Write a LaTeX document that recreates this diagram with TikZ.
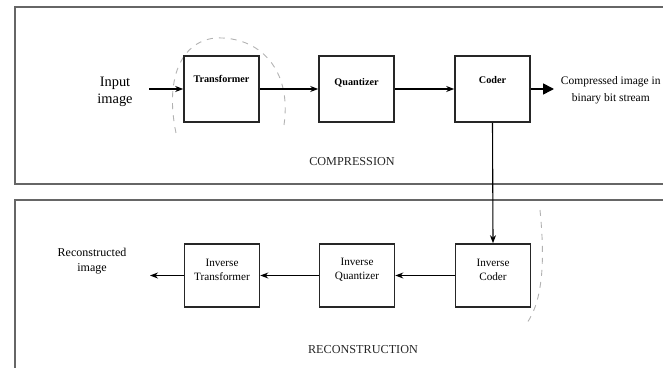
\documentclass[tikz,border=0pt]{standalone}
\usepackage{fontspec}
\setmainfont{Liberation Serif}
\usetikzlibrary{arrows.meta}
\begin{document}
\begin{tikzpicture}[x=0.5pt,y=-0.5pt,
  box/.style={draw=black!85, line width=0.8pt, minimum width=37.5pt, minimum height=33pt, inner sep=0pt},
  bbox/.style={box, minimum height=31.5pt},
  blab/.style={font=\fontsize{5.1}{6}\selectfont\bfseries, align=center, inner sep=0pt},
  ilab/.style={font=\fontsize{5.6}{7}\selectfont, align=center, inner sep=0pt},
  side/.style={font=\fontsize{7.2}{8.5}\selectfont, align=center, inner sep=0pt},
  captext/.style={font=\fontsize{6.1}{7}\selectfont, inner sep=0pt, text=black!85},
  arr/.style={line width=0.55pt, -{Stealth[length=4pt,width=3pt]}},
  bigarr/.style={line width=0.8pt, -{Triangle[length=5.5pt,width=5.5pt]}},
  panel/.style={draw=black!60, line width=0.55pt},
  pencil/.style={draw=black!30, dashed, line width=0.45pt}]
\useasboundingbox (0,0) rectangle (663,368);
\clip (0,0) rectangle (663,368);
% panels
\draw[panel] (15,7) rectangle (700,184);
\draw[panel] (15,200) rectangle (700,400);
% pencil marks
\draw[pencil] (176,133) .. controls (165,80) and (180,42) .. (215,38) .. controls (260,36) and (292,70) .. (284,125);
\draw[pencil] (540,210) .. controls (545,260) and (543,300) .. (527,323);
% top row
\node[box] (T) at (221.5,89) {};
\node[box] (Q) at (356.5,89) {};
\node[box] (C) at (492.5,89) {};
\node[blab] (Tl) at (221.5,79) {Transformer};
\node[blab] (Ql) at (356.5,83) {Quantizer};
\node[blab] (Cl) at (492.5,80) {Coder};
\node[side] (in) at (115,91.5) {Input\\image};
\coordinate (inA) at (149,89);
\draw[arr] (inA) -- (T.west);
\draw[arr] (T.east) -- (Q.west);
\draw[arr] (Q.east) -- (C.west);
\coordinate (outA) at (554,89);
\draw[bigarr] (C.east) -- (outA);
\node[font=\fontsize{5.75}{8.5}\selectfont, align=center, inner sep=0pt, anchor=east] (out) at (661,90) {Compressed image in\\binary bit stream};
\node[captext] (comp) at (352,162) {COMPRESSION};
% bottom row
\node[bbox] (IT) at (222,275.5) {};
\node[bbox] (IQ) at (357,275.5) {};
\node[bbox] (IC) at (493,275.5) {};
\node[ilab] (ITl) at (222,270) {Inverse\\Transformer};
\node[ilab] (IQl) at (357,270) {Inverse\\Quantizer};
\node[ilab] (ICl) at (493,270) {Inverse\\Coder};
\draw[arr] (C.south) -- (IC.north);
\draw[arr] (IC.west) -- (IQ.east);
\draw[arr] (IQ.west) -- (IT.east);
\coordinate (recA) at (150,275.5);
\draw[arr] (IT.west) -- (recA);
\node[font=\fontsize{6}{7.5}\selectfont, align=center, inner sep=0pt] (rec) at (92,261) {Reconstructed\\image};
\node[captext] (recon) at (363,350) {RECONSTRUCTION};
\end{tikzpicture}
\end{document}
